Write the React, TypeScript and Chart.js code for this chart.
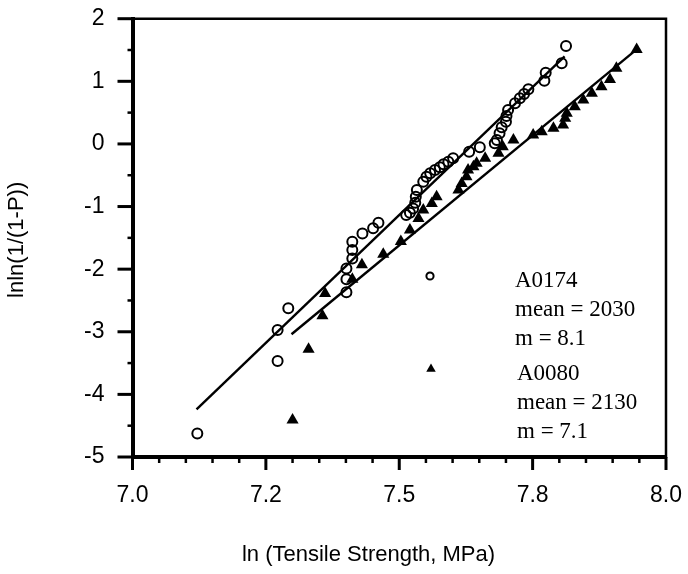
import React, { useEffect, useRef } from "react";
import Chart from "chart.js/auto";

// ---- data ----
const a0174X = [7.1215, 7.272, 7.272, 7.292, 7.401, 7.401, 7.401, 7.412, 7.412, 7.412, 7.431, 7.451, 7.461, 7.513, 7.52, 7.526, 7.53, 7.531, 7.533, 7.545, 7.551, 7.558, 7.567, 7.576, 7.583, 7.592, 7.601, 7.631, 7.651, 7.679, 7.683, 7.688, 7.692, 7.7, 7.701, 7.704, 7.717, 7.726, 7.734, 7.742, 7.772, 7.7745, 7.8045, 7.8126];
const a0174Y = [-4.623, -3.468, -2.973, -2.626, -2.37, -2.163, -1.99, -1.83, -1.695, -1.562, -1.43, -1.348, -1.259, -1.136, -1.1, -1.03, -0.94, -0.843, -0.737, -0.604, -0.524, -0.47, -0.417, -0.374, -0.326, -0.284, -0.23, -0.125, -0.054, 0.01, 0.062, 0.169, 0.265, 0.355, 0.446, 0.541, 0.648, 0.728, 0.797, 0.872, 1.01, 1.137, 1.288, 1.564];

const a0080X = [7.3, 7.33, 7.356, 7.361, 7.412, 7.43, 7.47, 7.503, 7.52, 7.536, 7.545, 7.561, 7.57, 7.611, 7.617, 7.626, 7.629, 7.639, 7.645, 7.661, 7.686, 7.694, 7.714, 7.751, 7.767, 7.789, 7.807, 7.811, 7.814, 7.829, 7.845, 7.861, 7.879, 7.895, 7.907, 7.945];
const a0080Y = [-4.41, -3.28, -2.745, -2.387, -2.16, -1.93, -1.76, -1.56, -1.375, -1.19, -1.056, -0.95, -0.843, -0.737, -0.63, -0.524, -0.417, -0.364, -0.31, -0.23, -0.15, -0.045, 0.062, 0.142, 0.195, 0.249, 0.302, 0.409, 0.489, 0.595, 0.7, 0.808, 0.914, 1.03, 1.21, 1.51];

const fitA0174X = [7.12, 7.81];
const fitA0174Y = [-4.24, 1.4];
const fitA0080X = [7.298, 7.945];
const fitA0080Y = [-3.04, 1.51];

const xTickLabels = ["7.0", "7.2", "7.5", "7.8", "8.0"];
const legendA0174 = ["A0174", "mean = 2030", "m = 8.1"];
const legendA0080 = ["A0080", "mean = 2130", "m = 7.1"];
const xTitle = "ln (Tensile Strength, MPa)";
const yTitle = "lnln(1/(1-P))";

const SANS = "'Liberation Sans', Arial, sans-serif";
const SERIF = "'Liberation Serif', 'Times New Roman', serif";

const zip = (xs: number[], ys: number[]) => xs.map((x, i) => ({ x, y: ys[i] }));

const decorPlugin = {
  id: "decor",
  afterDraw(chart: any) {
    const ctx = chart.ctx;
    const ca = chart.chartArea;
    const xs = chart.scales.x;
    const ys = chart.scales.y;
    ctx.save();
    ctx.strokeStyle = "#000";
    ctx.fillStyle = "#000";
    // top & right frame
    ctx.lineWidth = 2.5;
    ctx.beginPath();
    ctx.moveTo(ca.left, ca.top);
    ctx.lineTo(ca.right, ca.top);
    ctx.lineTo(ca.right, ca.bottom + 1);
    ctx.stroke();
    // x ticks (major every 0.25, minor every 0.05)
    for (let i = 0; i <= 20; i++) {
      const px = xs.getPixelForValue(7 + i * 0.05);
      const major = i % 5 === 0;
      ctx.lineWidth = major ? 3 : 2.5;
      ctx.beginPath();
      ctx.moveTo(px, ca.bottom);
      ctx.lineTo(px, ca.bottom + (major ? 13 : 6));
      ctx.stroke();
    }
    // y ticks (major every 1, minor every 0.5)
    for (let i = 0; i <= 14; i++) {
      const py = ys.getPixelForValue(-5 + i * 0.5);
      const major = i % 2 === 0;
      ctx.lineWidth = major ? 3 : 2.5;
      ctx.beginPath();
      ctx.moveTo(ca.left, py);
      ctx.lineTo(ca.left - (major ? 15 : 5), py);
      ctx.stroke();
    }
    // axis titles
    ctx.font = `22px ${SANS}`;
    ctx.textAlign = "center";
    ctx.textBaseline = "middle";
    ctx.fillText(xTitle, ca.left + 236, ca.bottom + 98);
    ctx.save();
    ctx.translate(17, (ca.top + ca.bottom) / 2 + 2);
    ctx.rotate(-Math.PI / 2);
    ctx.fillText(yTitle, 0, 0);
    ctx.restore();
    // legend text
    ctx.font = `23px ${SERIF}`;
    ctx.textAlign = "left";
    ctx.textBaseline = "alphabetic";
    const lx1 = ca.left + 382.5;
    const lx2 = ca.left + 384.5;
    const b1 = [286.7, 316, 345];
    const b2 = [380, 409, 438.3];
    legendA0174.forEach((t, i) => ctx.fillText(t, lx1, b1[i]));
    legendA0080.forEach((t, i) => ctx.fillText(t, lx2, b2[i]));
    // legend markers
    ctx.lineWidth = 2;
    ctx.beginPath();
    ctx.arc(ca.left + 297.5, 276, 3.6, 0, Math.PI * 2);
    ctx.stroke();
    const tx = ca.left + 298.5;
    const ty = 369;
    const r = 5.5;
    ctx.beginPath();
    ctx.moveTo(tx, ty - r);
    ctx.lineTo(tx + r * 0.866, ty + r * 0.5);
    ctx.lineTo(tx - r * 0.866, ty + r * 0.5);
    ctx.closePath();
    ctx.fill();
    ctx.restore();
  },
};

export default function App() {
  const ref = useRef<HTMLCanvasElement | null>(null);
  useEffect(() => {
    if (!ref.current) return;
    const chart = new Chart(ref.current, {
      type: "scatter",
      data: {
        datasets: [
          {
            data: zip(fitA0174X, fitA0174Y),
            showLine: true,
            borderColor: "#000",
            borderWidth: 2.4,
            pointRadius: 0,
            fill: false,
          } as any,
          {
            data: zip(fitA0080X, fitA0080Y),
            showLine: true,
            borderColor: "#000",
            borderWidth: 2.4,
            pointRadius: 0,
            fill: false,
          } as any,
          {
            data: zip(a0080X, a0080Y),
            pointStyle: "triangle",
            pointRadius: 7,
            backgroundColor: "#000",
            borderColor: "#000",
            borderWidth: 0,
          },
          {
            data: zip(a0174X, a0174Y),
            pointStyle: "circle",
            pointRadius: 5,
            backgroundColor: "rgba(0,0,0,0)",
            borderColor: "#000",
            borderWidth: 2,
          },
        ],
      },
      options: {
        animation: false,
        responsive: true,
        maintainAspectRatio: false,
        layout: { padding: { top: 18.7, right: 22, left: 0, bottom: 0 } },
        plugins: { legend: { display: false }, tooltip: { enabled: false } },
        scales: {
          x: {
            type: "linear",
            min: 7,
            max: 8,
            grid: { display: false },
            border: { display: true, width: 4, color: "#000" },
            ticks: {
              stepSize: 0.25,
              padding: 17,
              color: "#000",
              font: { family: SANS, size: 23 },
              maxRotation: 0,
              callback: (_v: any, i: number) => xTickLabels[i],
            },
            afterFit: (s: any) => {
              s.height = 117;
              s.paddingLeft = 0;
              s.paddingRight = 0;
            },
          },
          y: {
            type: "linear",
            min: -5,
            max: 2,
            grid: { display: false },
            border: { display: true, width: 4, color: "#000" },
            ticks: {
              stepSize: 1,
              padding: 20,
              color: "#000",
              font: { family: SANS, size: 23 },
              callback: (v: any) => String(v),
            },
            afterFit: (s: any) => {
              s.width = 132.5;
              s.paddingTop = 0;
              s.paddingBottom = 0;
            },
          },
        },
      },
      plugins: [decorPlugin],
    });
    return () => chart.destroy();
  }, []);
  return (
    <div style={{ position: "absolute", left: 0, top: 0, width: 688, height: 574, background: "#fff" }}>
      <canvas ref={ref} />
    </div>
  );
}
